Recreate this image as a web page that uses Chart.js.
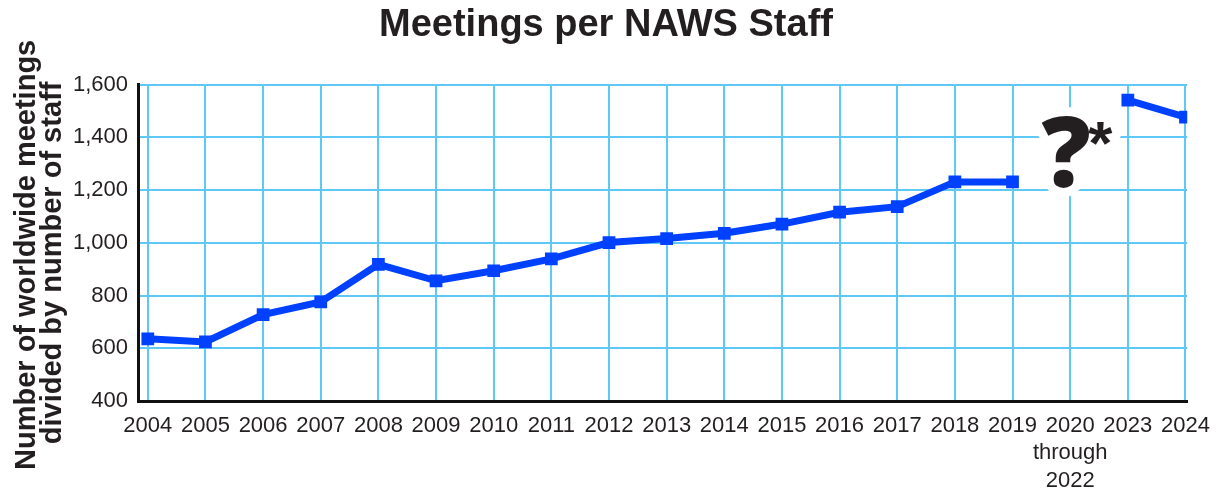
<!DOCTYPE html>
<html>
<head>
<meta charset="utf-8">
<script src="https://cdn.jsdelivr.net/npm/chart.js@4.4.1/dist/chart.umd.min.js"></script>
<style>
  html, body { margin: 0; padding: 0; background: #fff; }
  #wrap { width: 1221px; height: 489px; }
</style>
</head>
<body>
<div id="wrap"><canvas id="staffChart"></canvas></div>
<script>
const years = ["2004", "2005", "2006", "2007", "2008", "2009", "2010", "2011", "2012", "2013",
  "2014", "2015", "2016", "2017", "2018", "2019", ["2020", "through", "2022"], "2023", "2024"];
const meetingsPerStaff = [636, 624, 728, 776, 918, 856, 894, 939, 1001, 1016,
  1036, 1071, 1116, 1137, 1231, 1231, null, 1541, 1477];
const yTickValues = [400, 600, 800, 1000, 1200, 1400, 1600];
const gapIndex = 16; // 2020 through 2022, no data

const sans = "'Liberation Sans', Arial, sans-serif";
const heavy = "'Noto Sans', 'Liberation Sans', sans-serif";
const gridBlue = "#5ec8f6";
const ink = "#231f20";

// big "?*" over the missing years, with a white halo that cuts the grid
const unknownMark = {
  id: "unknownMark",
  beforeDatasetsDraw(chart) {
    const { ctx, scales: { x, y } } = chart;
    const cx = x.getPixelForValue(gapIndex);
    const base = y.getPixelForValue(1210);
    const qFont = "900 97px " + heavy;
    const starFont = "bold 62px " + sans;
    ctx.save();
    ctx.lineJoin = "round";
    ctx.strokeStyle = "#fff";
    ctx.lineWidth = 18;
    ctx.textBaseline = "alphabetic";
    ctx.font = qFont;
    ctx.textAlign = "center";
    ctx.strokeText("?", cx - 4, base);
    ctx.font = starFont;
    ctx.textAlign = "left";
    ctx.strokeText("*", cx + 18, base - 23);
    ctx.fillStyle = ink;
    ctx.font = qFont;
    ctx.textAlign = "center";
    ctx.fillText("?", cx - 4, base);
    ctx.font = starFont;
    ctx.textAlign = "left";
    ctx.fillText("*", cx + 18, base - 23);
    ctx.restore();
  }
};

const ctx = document.getElementById("staffChart").getContext("2d");
const staffChart = new Chart(ctx, {
  type: "line",
  data: {
    datasets: [
      {
        label: "Meetings per staff",
        data: meetingsPerStaff.map((v, i) => ({ x: i, y: v })),
        borderColor: "#0040ff",
        backgroundColor: "#0040ff",
        borderWidth: 7,
        pointStyle: "rect",
        pointRadius: 9,
        pointBorderWidth: 0,
        tension: 0,
        spanGaps: false,
      },
    ],
  },
  options: {
    responsive: true,
    maintainAspectRatio: false,
    animation: false,
    layout: {
      padding: { left: 20, right: 29, top: 0, bottom: 0 },
    },
    plugins: {
      legend: { display: false },
      tooltip: { enabled: false },
      title: {
        display: true,
        text: "Meetings per NAWS Staff",
        color: ink,
        font: { family: sans, size: 38, weight: "bold" },
        padding: { top: 3, bottom: 36 },
      },
    },
    scales: {
      x: {
        type: "linear",
        min: -0.17,
        max: 18.03,
        afterBuildTicks: (scale) => {
          scale.ticks = years.map((_, i) => ({ value: i }));
        },
        afterFit: (scale) => {
          scale.height = 88;
        },
        ticks: {
          autoSkip: false,
          maxRotation: 0,
          padding: 11,
          color: ink,
          font: { family: sans, size: 22, lineHeight: "27.5px" },
          callback: (v) => years[v],
        },
        grid: { color: gridBlue, lineWidth: 2, drawTicks: false },
        border: { display: true, color: "#111", width: 3 },
      },
      y: {
        min: 400,
        max: 1600,
        afterBuildTicks: (scale) => {
          scale.ticks = yTickValues.map((v) => ({ value: v }));
        },
        afterFit: (scale) => {
          scale.width = 118;
        },
        ticks: {
          padding: 10,
          color: ink,
          font: { family: sans, size: 22 },
          callback: (v) => v.toLocaleString("en-US"),
        },
        grid: { color: gridBlue, lineWidth: 2, drawTicks: false },
        border: { display: true, color: "#111", width: 3 },
        title: {
          display: true,
          // trailing spaces nudge the rotated lines down a little
          text: ["Number of worldwide meetings   ", "divided by number of staff     "],
          color: ink,
          font: { family: sans, size: 29, weight: "bold", lineHeight: "26px" },
          padding: { top: -6, bottom: 0 },
        },
      },
    },
  },
  plugins: [unknownMark],
});
</script>
</body>
</html>
